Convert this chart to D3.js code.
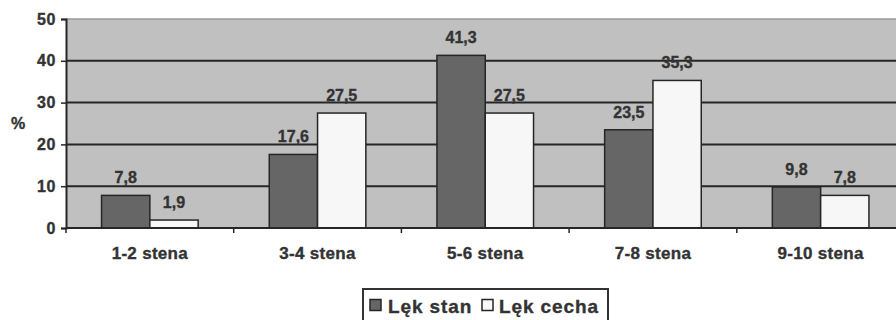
<!DOCTYPE html>
<html>
<head>
<meta charset="utf-8">
<script src="https://cdn.jsdelivr.net/npm/d3@7"></script>
<style>
  html, body { margin: 0; padding: 0; background: #fff; }
  svg { display: block; font-family: "Liberation Sans", Arial, sans-serif; font-weight: bold; }
  svg text { stroke: #333; stroke-width: 0.35px; }
</style>
</head>
<body>
<svg id="chart" width="896" height="320"></svg>
<script>
// Score ranges (sten) and the share of respondents in each, per anxiety scale
const categories = ["1-2 stena", "3-4 stena", "5-6 stena", "7-8 stena", "9-10 stena"];
const seriesNames = ["Lęk stan", "Lęk cecha"];
const lekStan = [7.8, 17.6, 41.3, 23.5, 9.8];
const lekCecha = [1.9, 27.5, 27.5, 35.3, 7.8];
const yTicks = [0, 10, 20, 30, 40, 50];

const seriesValues = [lekStan, lekCecha];
const fills = ["#666666", "#f7f7f7"];
const fmt = v => String(v).replace(".", ",");

const svg = d3.select("#chart");
const plotLeft = 66, plotRight = 904.5, plotTop = 19, plotBottom = 228;

const x0 = d3.scaleBand().domain(categories).range([plotLeft, plotRight])
  .paddingInner(0.424).paddingOuter(0.212);
const x1 = d3.scaleBand().domain(seriesNames).range([0, x0.bandwidth()]);
const y = d3.scaleLinear().domain([0, 50]).range([plotBottom, plotTop]);

// plot area
svg.append("rect")
  .attr("x", plotLeft).attr("y", y(50))
  .attr("width", plotRight - plotLeft).attr("height", y(0) - y(50))
  .attr("fill", "#c0c0c0");

// top border (light)
svg.append("line")
  .attr("x1", plotLeft).attr("x2", plotRight)
  .attr("y1", y(50)).attr("y2", y(50))
  .attr("stroke", "#9a9a9a").attr("stroke-width", 1.5);

// gridlines
svg.append("g").selectAll("line")
  .data(yTicks.filter(t => t > 0 && t < 50))
  .join("line")
  .attr("x1", plotLeft).attr("x2", plotRight)
  .attr("y1", d => y(d)).attr("y2", d => y(d))
  .attr("stroke", "#262626").attr("stroke-width", 2);

// y axis
const yAxis = svg.append("g")
  .attr("transform", `translate(${plotLeft},0)`)
  .call(d3.axisLeft(y).tickValues(yTicks).tickSize(5).tickPadding(5));
yAxis.select(".domain").attr("stroke", "#262626").attr("stroke-width", 2);
yAxis.selectAll(".tick line").attr("stroke", "#262626").attr("stroke-width", 1.5);
yAxis.selectAll(".tick text")
  .attr("font-size", 16).attr("font-family", "Liberation Sans, Arial, sans-serif")
  .attr("font-weight", "bold").attr("fill", "#333").attr("letter-spacing", 0.6);

svg.append("text")
  .attr("x", 18).attr("y", 129)
  .attr("text-anchor", "middle")
  .attr("font-size", 16).attr("fill", "#333")
  .text("%");

// bars
const groups = svg.append("g").selectAll("g")
  .data(categories)
  .join("g")
  .attr("transform", d => `translate(${x0(d)},0)`);

groups.selectAll("rect")
  .data((c, i) => seriesNames.map((s, k) => ({ s, k, v: seriesValues[k][i] })))
  .join("rect")
  .attr("x", d => x1(d.s))
  .attr("y", d => y(d.v))
  .attr("width", x1.bandwidth())
  .attr("height", d => y(0) - y(d.v))
  .attr("fill", d => fills[d.k])
  .attr("stroke", "#262626").attr("stroke-width", 1.5);

groups.selectAll("text")
  .data((c, i) => seriesNames.map((s, k) => ({ s, k, v: seriesValues[k][i] })))
  .join("text")
  .attr("x", d => x1(d.s) + x1.bandwidth() / 2)
  .attr("y", d => y(d.v) - 12)
  .attr("text-anchor", "middle")
  .attr("font-size", 16).attr("fill", "#333")
  .text(d => fmt(d.v));

// x axis line and category separators
svg.append("line")
  .attr("x1", plotLeft).attr("x2", plotRight)
  .attr("y1", y(0)).attr("y2", y(0))
  .attr("stroke", "#262626").attr("stroke-width", 2);

const bounds = d3.range(categories.length + 1).map(i => plotLeft + i * x0.step());
svg.append("g").selectAll("line")
  .data(bounds)
  .join("line")
  .attr("x1", d => d).attr("x2", d => d)
  .attr("y1", y(0)).attr("y2", y(0) + 5)
  .attr("stroke", "#262626").attr("stroke-width", 1.5);

svg.append("g").selectAll("text")
  .data(categories)
  .join("text")
  .attr("x", d => x0(d) + x0.bandwidth() / 2)
  .attr("y", 259)
  .attr("text-anchor", "middle")
  .attr("font-size", 17).attr("fill", "#333")
  .attr("letter-spacing", 0.3)
  .text(d => d);

// legend
const lg = svg.append("g");
lg.append("rect")
  .attr("x", 363).attr("y", 289)
  .attr("width", 245).attr("height", 40)
  .attr("fill", "#fff").attr("stroke", "#333").attr("stroke-width", 2);

const legendItems = [
  { name: seriesNames[0], fill: fills[0], sx: 370, tx: 388 },
  { name: seriesNames[1], fill: fills[1], sx: 482, tx: 499 }
];
legendItems.forEach(it => {
  lg.append("rect")
    .attr("x", it.sx).attr("y", 299.5)
    .attr("width", 11).attr("height", 11)
    .attr("fill", it.fill).attr("stroke", "#262626").attr("stroke-width", 1.5);
  lg.append("text")
    .attr("x", it.tx).attr("y", 312.5)
    .attr("font-size", 19).attr("fill", "#333")
    .attr("letter-spacing", 0.9)
    .text(it.name);
});
</script>
</body>
</html>
